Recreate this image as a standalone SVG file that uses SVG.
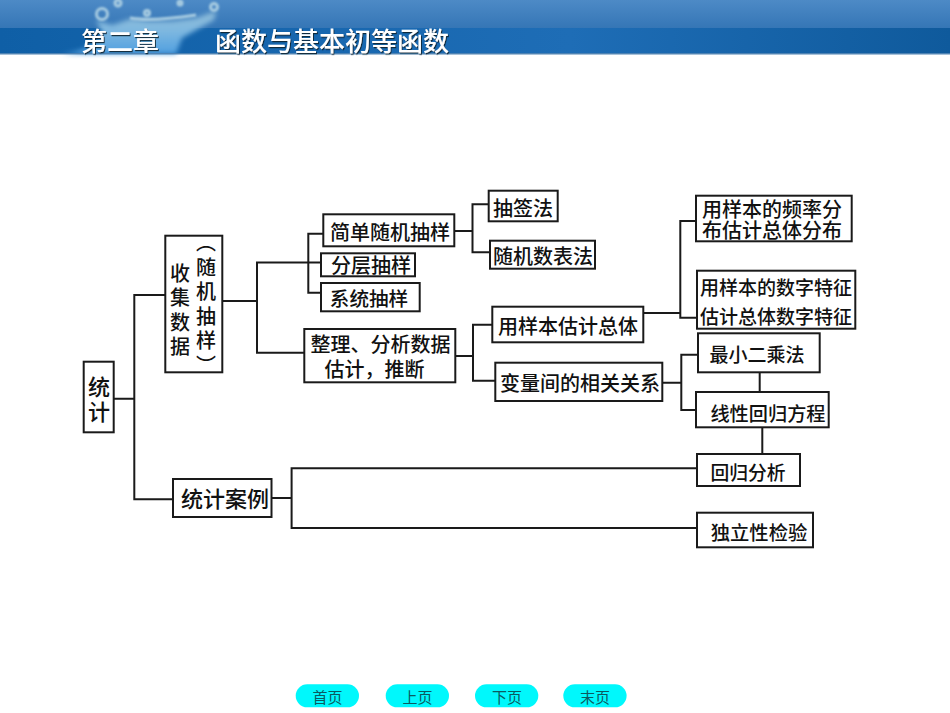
<svg xmlns="http://www.w3.org/2000/svg" width="950" height="713" viewBox="0 0 950 713">
<style>
text{font-family:"Noto Sans CJK SC","Noto Sans",sans-serif;fill:#111}
.b{fill:#fff;stroke:#1a1a1a;stroke-width:2}
.t{font-size:20px;text-anchor:middle;dominant-baseline:central;font-weight:500}
.v{font-size:20px;writing-mode:vertical-rl;letter-spacing:4.5px;font-weight:500}
.h{font-size:26px;fill:#fff;font-weight:500;dominant-baseline:central;filter:url(#sh)}
.p{fill:#00f8fc}
.n{font-size:15px;fill:#0b5a60;text-anchor:middle;dominant-baseline:central}
#conn path{fill:none;stroke:#1a1a1a;stroke-width:2}
</style>
<defs>
<linearGradient id="top" x1="0" x2="0" y1="0" y2="1"><stop offset="0" stop-color="#4d8ac6"/><stop offset="1" stop-color="#3576b6"/></linearGradient>
<linearGradient id="low" x1="0" x2="1" y1="0" y2="0"><stop offset="0" stop-color="#0f5fa6"/><stop offset=".6" stop-color="#1e6db6"/><stop offset="1" stop-color="#0f5a9c"/></linearGradient>
<linearGradient id="sp" x1="0" x2="0" y1="0" y2="1"><stop offset="0" stop-color="#8fbcd8"/><stop offset=".45" stop-color="#7fb8e0"/><stop offset="1" stop-color="#4f9fe0"/></linearGradient>
<filter id="bl" x="-20%" y="-20%" width="140%" height="140%"><feGaussianBlur stdDeviation="2.5"/></filter>
<filter id="bs"><feGaussianBlur stdDeviation="1"/></filter>
<filter id="sh" x="-5%" y="-20%" width="110%" height="150%"><feDropShadow dx="1" dy="1.2" stdDeviation=".5" flood-color="#123" flood-opacity=".9"/></filter>
</defs>
<g id="header">
<rect width="950" height="28" fill="url(#top)"/>
<rect y="28" width="950" height="26" fill="url(#low)"/>
<path d="M62 54Q95 50 103 34L96 20 112 25 130 19 150 21 172 21 196 18 216 11 214 20 196 30 182 38 176 54Z" fill="url(#sp)" filter="url(#bl)"/>
<g fill="none" stroke="#a9cde2" stroke-width="3" filter="url(#bs)">
<circle cx="102" cy="14" r="5.5"/><circle cx="118" cy="3" r="3"/><circle cx="147" cy="13" r="2.5"/><circle cx="180" cy="3" r="2"/><circle cx="214" cy="7" r="3.5"/>
<path d="M130 18Q150 22 196 15"/>
</g>
<rect y="53" width="950" height="1.5" fill="#4f83b3"/>
<text class="h" x="81" y="39">第二章</text>
<text class="h" x="215" y="39">函数与基本初等函数</text>
</g>
<g id="conn">
<path d="M113.7 398.7H134.3M165.3 295H134.3V499.3H173"/>
<path d="M222.3 301H257M321 262.5H257V352.7H304.3"/>
<path d="M323.3 233.7H308.3V292.7H321"/>
<path d="M454.3 231H472.5M488.7 204.3H472.5V252.3H490"/>
<path d="M455.3 356H473M492.3 324.7H473V380.7H495.3"/>
<path d="M643.3 313H680.3M696 221H680.3V317.7H697"/>
<path d="M662.3 382.7H681.3M698 354.7H681.3V410H696"/>
<path d="M759.7 372.3V392M762.3 427.3V454"/>
<path d="M271.5 498H291.6M697 468.3H291.6V528H697"/>
</g>
<g id="n-tongji"><rect class="b" x="83.7" y="361.7" width="30" height="70.6"/><text class="t" style="font-size:22px"><tspan x="99" y="384.5">统</tspan><tspan x="99" y="409.5">计</tspan></text></g>
<g id="n-shouji"><rect class="b" x="165.3" y="235.7" width="57" height="136.6"/><text class="v" x="180" y="263">收集数据</text><text class="v" x="206" y="232.5">（随机抽样）</text></g>
<g id="n-jiandan"><rect class="b" x="323.3" y="214.3" width="131" height="32"/><text class="t" x="390" y="231">简单随机抽样</text></g>
<g id="n-fenceng"><rect class="b" x="321" y="253.3" width="94" height="23"/><text class="t" x="371" y="264.5">分层抽样</text></g>
<g id="n-xitong"><rect class="b" x="321" y="283" width="98.7" height="28.3"/><text class="t" x="369" y="297.5" style="font-size:19.6px">系统抽样</text></g>
<g id="n-zhengli"><rect class="b" x="304.3" y="329" width="151" height="53.3"/><text class="t"><tspan x="380.5" y="342.5">整理、分析数据</tspan><tspan x="374.5" y="367.5">估计，推断</tspan></text></g>
<g id="n-chouqian"><rect class="b" x="488.7" y="190.7" width="69" height="30.6"/><text class="t" x="523" y="207">抽签法</text></g>
<g id="n-suiji"><rect class="b" x="490" y="240.7" width="105" height="28"/><text class="t" x="543" y="255">随机数表法</text></g>
<g id="n-guji"><rect class="b" x="492.3" y="306.7" width="151" height="35.6"/><text class="t" x="568" y="325">用样本估计总体</text></g>
<g id="n-bianliang"><rect class="b" x="495.3" y="362.7" width="167" height="38.3"/><text class="t" x="580" y="382.5">变量间的相关关系</text></g>
<g id="n-pinlv"><rect class="b" x="696" y="195.7" width="155.7" height="45.6"/><text class="t"><tspan x="772" y="208">用样本的频率分</tspan><tspan x="772" y="229">布估计总体分布</tspan></text></g>
<g id="n-shuzi"><rect class="b" x="697" y="270.7" width="158.3" height="58"/><text class="t" style="font-size:19px"><tspan x="776" y="286">用样本的数字特征</tspan><tspan x="776" y="314.5">估计总体数字特征</tspan></text></g>
<g id="n-zuixiao"><rect class="b" x="698" y="333.3" width="121.7" height="39"/><text class="t" x="757" y="353.5" style="font-size:19px">最小二乘法</text></g>
<g id="n-xianxing"><rect class="b" x="696" y="392" width="132.7" height="35.3"/><text class="t" x="768" y="412.5" style="font-size:19.2px">线性回归方程</text></g>
<g id="n-anli"><rect class="b" x="173" y="479" width="98.5" height="38"/><text class="t" x="225" y="497" style="font-size:22px">统计案例</text></g>
<g id="n-huigui"><rect class="b" x="697" y="454" width="103" height="32"/><text class="t" x="748" y="471" style="font-size:18.8px">回归分析</text></g>
<g id="n-duli"><rect class="b" x="697" y="512.7" width="116" height="34.6"/><text class="t" x="759" y="532" style="font-size:19.3px">独立性检验</text></g>
<g id="btn1"><rect class="p" x="295.7" y="684.3" width="63.3" height="23" rx="11.5"/><text class="n" x="327.5" y="696">首页</text></g>
<g id="btn2"><rect class="p" x="385.7" y="684.3" width="63.3" height="23" rx="11.5"/><text class="n" x="417.5" y="696">上页</text></g>
<g id="btn3"><rect class="p" x="475" y="684.3" width="63.3" height="23" rx="11.5"/><text class="n" x="507" y="696">下页</text></g>
<g id="btn4"><rect class="p" x="563.3" y="684.3" width="63.3" height="23" rx="11.5"/><text class="n" x="595" y="696">末页</text></g>
</svg>
